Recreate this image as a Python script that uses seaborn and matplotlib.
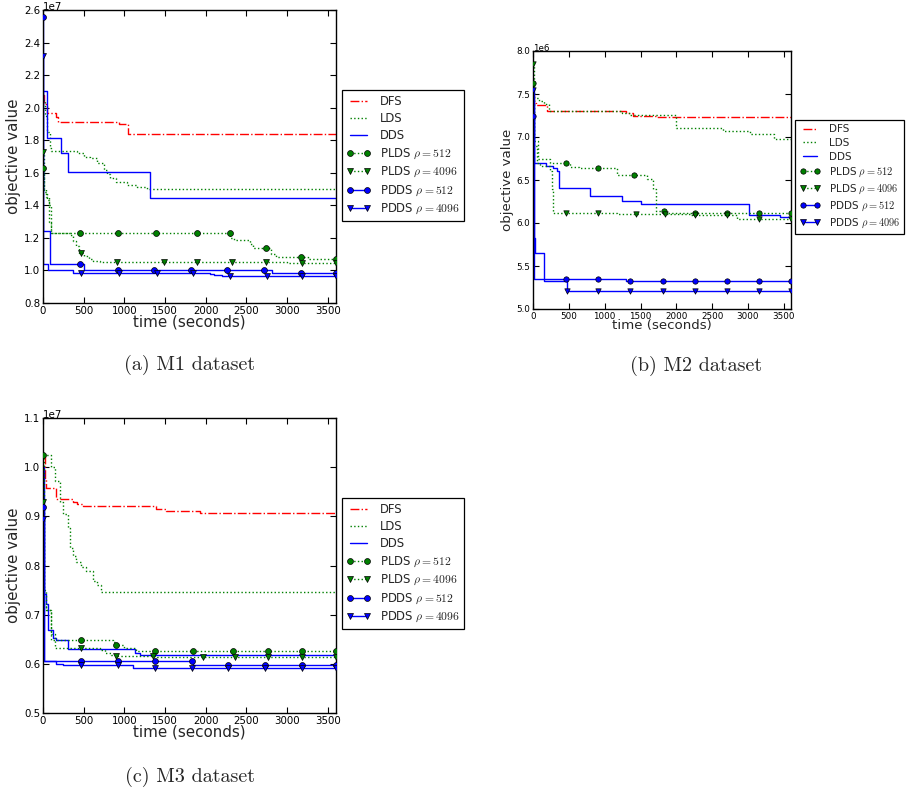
import numpy as np
import pandas as pd
import matplotlib
matplotlib.use("Agg")
import matplotlib.pyplot as plt
import seaborn as sns
from matplotlib.lines import Line2D

# ---------------- data ----------------
XMAX = 3600

# M1 dataset (values in units of 1e7)
m1_scale = 1e7
m1_dfs_t = [0, 15, 45, 160, 190, 930, 1040]
m1_dfs_v = [2.08, 2.02, 1.97, 1.94, 1.91, 1.90, 1.84]
m1_lds_t = [0, 20, 50, 80, 100, 420, 500, 580, 660, 745, 790, 826, 900, 1031, 1150, 1276]
m1_lds_v = [2.05, 1.95, 1.85, 1.75, 1.735, 1.72, 1.70, 1.69, 1.66, 1.62, 1.59, 1.565, 1.545, 1.525, 1.51, 1.50]
m1_dds_t = [0, 49, 225, 307, 1317]
m1_dds_v = [2.10, 1.815, 1.72, 1.605, 1.445]
m1_plds512_t = [0, 10, 50, 70, 100, 2300, 2350, 2540, 2580, 2800, 2860, 3260]
m1_plds512_v = [1.63, 1.48, 1.43, 1.30, 1.228, 1.20, 1.19, 1.16, 1.135, 1.10, 1.085, 1.07]
m1_plds4096_t = [0, 10, 40, 70, 100, 330, 370, 400, 440, 500, 560, 620, 700, 3000]
m1_plds4096_v = [1.73, 1.50, 1.45, 1.40, 1.23, 1.22, 1.18, 1.15, 1.11, 1.09, 1.07, 1.06, 1.05, 1.045]
m1_pdds512_t = [0, 5, 82, 500, 2810]
m1_pdds512_v = [2.56, 1.24, 1.04, 1.005, 0.985]
m1_pdds4096_t = [0, 5, 60, 370, 2050, 2100, 2200]
m1_pdds4096_v = [2.32, 1.04, 1.005, 0.985, 0.98, 0.972, 0.968]
m1_mk_plds512 = [0, 458, 925, 1391, 1890, 2299, 2737, 3170, 3600]
m1_mk_plds4096 = [0, 470, 908, 1489, 1890, 2319, 2737, 3178, 3600]
m1_mk_pdds512 = [0, 458, 916, 1366, 1816, 2266, 2716, 3170, 3600]
m1_mk_pdds4096 = [0, 470, 929, 1399, 1849, 2299, 2749, 3178, 3600]

# M2 dataset (values in units of 1e6)
m2_scale = 1e6
m2_dfs_t = [0, 20, 40, 190, 1300, 1400, 1720]
m2_dfs_v = [7.50, 7.40, 7.37, 7.30, 7.28, 7.25, 7.23]
m2_lds_t = [0, 90, 150, 230, 1240, 1350, 1990, 2650, 3030, 3360]
m2_lds_v = [7.45, 7.42, 7.38, 7.30, 7.28, 7.255, 7.11, 7.075, 7.03, 6.98]
m2_dds_t = [0, 20, 186, 280, 330, 364, 793, 1248, 1513, 3008, 3446]
m2_dds_v = [7.40, 6.70, 6.66, 6.64, 6.60, 6.41, 6.315, 6.26, 6.22, 6.09, 6.07]
m2_plds512_t = [0, 20, 70, 233, 512, 640, 1166, 1586, 1677, 1723, 1850]
m2_plds512_v = [7.63, 6.95, 6.75, 6.70, 6.65, 6.64, 6.56, 6.51, 6.40, 6.14, 6.115]
m2_plds4096_t = [0, 20, 60, 100, 240, 260, 280, 1170, 2200, 2843]
m2_plds4096_v = [7.85, 6.90, 6.70, 6.66, 6.60, 6.40, 6.12, 6.10, 6.09, 6.045]
m2_pdds512_t = [0, 10, 1300]
m2_pdds512_v = [7.24, 5.35, 5.32]
m2_pdds4096_t = [0, 10, 30, 150, 470]
m2_pdds4096_v = [7.55, 5.83, 5.65, 5.32, 5.21]
m2_mk_plds512 = [0, 466, 908, 1406, 1826, 2259, 2701, 3148, 3600]
m2_mk_plds4096 = [0, 466, 908, 1434, 1840, 2259, 2701, 3148, 3600]
m2_mk_pdds512 = [0, 466, 908, 1360, 1807, 2259, 2701, 3148, 3600]
m2_mk_pdds4096 = [0, 475, 908, 1360, 1807, 2259, 2701, 3148, 3600]

# M3 dataset (values in units of 1e7)
m3_scale = 1e7
m3_dfs_t = [0, 20, 41, 164, 369, 420, 492, 1394, 1517, 1927]
m3_dfs_v = [1.02, 0.975, 0.958, 0.936, 0.93, 0.925, 0.922, 0.915, 0.91, 0.906]
m3_lds_t = [0, 102, 143, 205, 250, 307, 328, 370, 410, 470, 533, 615, 660, 717]
m3_lds_v = [1.025, 1.00, 0.971, 0.93, 0.905, 0.876, 0.836, 0.82, 0.808, 0.797, 0.788, 0.768, 0.76, 0.747]
m3_dds_t = [0, 10, 41, 61, 123, 164, 307, 1127, 1189]
m3_dds_v = [1.00, 0.742, 0.722, 0.669, 0.652, 0.648, 0.630, 0.622, 0.617]
m3_plds512_t = [0, 10, 41, 102, 861, 900, 1000, 1148]
m3_plds512_v = [1.025, 0.75, 0.71, 0.648, 0.645, 0.638, 0.633, 0.627]
m3_plds4096_t = [0, 10, 41, 102, 150, 697, 760, 830, 902, 1400]
m3_plds4096_v = [0.93, 0.72, 0.71, 0.66, 0.632, 0.628, 0.622, 0.617, 0.615, 0.614]
m3_pdds512_t = [0, 8, 1841]
m3_pdds512_v = [0.918, 0.606, 0.598]
m3_pdds4096_t = [0, 8, 164, 246, 1104]
m3_pdds4096_v = [0.895, 0.605, 0.600, 0.597, 0.592]
m3_mk_plds512 = [0, 472, 902, 1374, 1845, 2337, 2768, 3178, 3600]
m3_mk_plds4096 = [0, 472, 902, 1353, 1968, 2358, 2768, 3178, 3600]
m3_mk_pdds512 = [0, 472, 923, 1374, 1825, 2276, 2727, 3178, 3600]
m3_mk_pdds4096 = [0, 472, 923, 1374, 1825, 2276, 2727, 3178, 3600]

series_names = ["DFS", "LDS", "DDS", "PLDS512", "PLDS4096", "PDDS512", "PDDS4096"]
labels = ["DFS", "LDS", "DDS", r"PLDS $\rho=512$", r"PLDS $\rho=4096$",
          r"PDDS $\rho=512$", r"PDDS $\rho=4096$"]
x_ticks = [0, 500, 1000, 1500, 2000, 2500, 3000, 3500]
captions = ["(a) M1 dataset", "(b) M2 dataset", "(c) M3 dataset"]

# ---------------- style ----------------
sns.set_style("ticks")
plt.rcParams.update({
    "font.family": ["DejaVu Sans"],
    "mathtext.fontset": "cm",
    "xtick.direction": "in", "ytick.direction": "in",
    "xtick.top": True, "ytick.right": True,
    "axes.formatter.useoffset": False,
    "axes.edgecolor": "black",
    "axes.linewidth": 1.0,
    "xtick.color": "black", "ytick.color": "black",
})

RED, GREEN, BLUE = "#ff0000", "#008000", "#0000ff"
styles = {
    "DFS": dict(color=RED, ls="-.", marker=None),
    "LDS": dict(color=GREEN, ls=":", marker=None),
    "DDS": dict(color=BLUE, ls="-", marker=None),
    "PLDS512": dict(color=GREEN, ls=":", marker="o"),
    "PLDS4096": dict(color=GREEN, ls=":", marker="v"),
    "PDDS512": dict(color=BLUE, ls="-", marker="o"),
    "PDDS4096": dict(color=BLUE, ls="-", marker="v"),
}


def step_value(ts, vs, t):
    i = np.searchsorted(np.asarray(ts), t, side="right") - 1
    return np.asarray(vs)[i]


datasets = [
    dict(scale=m1_scale,
         series={"DFS": (m1_dfs_t, m1_dfs_v), "LDS": (m1_lds_t, m1_lds_v),
                 "DDS": (m1_dds_t, m1_dds_v),
                 "PLDS512": (m1_plds512_t, m1_plds512_v),
                 "PLDS4096": (m1_plds4096_t, m1_plds4096_v),
                 "PDDS512": (m1_pdds512_t, m1_pdds512_v),
                 "PDDS4096": (m1_pdds4096_t, m1_pdds4096_v)},
         marks={"PLDS512": m1_mk_plds512, "PLDS4096": m1_mk_plds4096,
                "PDDS512": m1_mk_pdds512, "PDDS4096": m1_mk_pdds4096},
         ylim=(0.8, 2.6), yticks=np.arange(0.8, 2.61, 0.2),
         rect=[43 / 907, 1 - 303 / 789, 293 / 907, 293 / 789],
         tick_fs=7.4, label_fs=10.9, leg_fs=8.4, ms=18,
         leg_pos=(342 / 907, 1 - 90 / 789)),
    dict(scale=m2_scale,
         series={"DFS": (m2_dfs_t, m2_dfs_v), "LDS": (m2_lds_t, m2_lds_v),
                 "DDS": (m2_dds_t, m2_dds_v),
                 "PLDS512": (m2_plds512_t, m2_plds512_v),
                 "PLDS4096": (m2_plds4096_t, m2_plds4096_v),
                 "PDDS512": (m2_pdds512_t, m2_pdds512_v),
                 "PDDS4096": (m2_pdds4096_t, m2_pdds4096_v)},
         marks={"PLDS512": m2_mk_plds512, "PLDS4096": m2_mk_plds4096,
                "PDDS512": m2_mk_pdds512, "PDDS4096": m2_mk_pdds4096},
         ylim=(5.0, 8.0), yticks=np.arange(5.0, 8.01, 0.5),
         rect=[533 / 907, 1 - 309 / 789, 258 / 907, 258 / 789],
         tick_fs=6.3, label_fs=9.6, leg_fs=7.5, ms=15,
         leg_pos=(795 / 907, 1 - 120 / 789)),
    dict(scale=m3_scale,
         series={"DFS": (m3_dfs_t, m3_dfs_v), "LDS": (m3_lds_t, m3_lds_v),
                 "DDS": (m3_dds_t, m3_dds_v),
                 "PLDS512": (m3_plds512_t, m3_plds512_v),
                 "PLDS4096": (m3_plds4096_t, m3_plds4096_v),
                 "PDDS512": (m3_pdds512_t, m3_pdds512_v),
                 "PDDS4096": (m3_pdds4096_t, m3_pdds4096_v)},
         marks={"PLDS512": m3_mk_plds512, "PLDS4096": m3_mk_plds4096,
                "PDDS512": m3_mk_pdds512, "PDDS4096": m3_mk_pdds4096},
         ylim=(0.5, 1.1), yticks=np.arange(0.5, 1.101, 0.1),
         rect=[43 / 907, 1 - 713 / 789, 293 / 907, 295 / 789],
         tick_fs=7.4, label_fs=10.9, leg_fs=8.4, ms=18,
         leg_pos=(342 / 907, 1 - 498 / 789)),
]

caption_pos = [(190 / 907, 1 - 365 / 789), (696 / 907, 1 - 366 / 789),
               (190 / 907, 1 - 777 / 789)]

fig = plt.figure(figsize=(9.07, 7.89), dpi=100)

for k, ds in enumerate(datasets):
    ax = fig.add_axes(ds["rect"])
    sc = ds["scale"]
    for name in series_names:
        ts, vs = ds["series"][name]
        st = styles[name]
        df = pd.DataFrame({"t": list(ts) + [XMAX],
                           "v": [v * sc for v in vs] + [vs[-1] * sc]})
        sns.lineplot(data=df, x="t", y="v", ax=ax, color=st["color"],
                     linestyle=st["ls"], linewidth=1.0, drawstyle="steps-post",
                     estimator=None, sort=False, legend=False, zorder=2)
        if st["marker"] is not None:
            mt = np.asarray(ds["marks"][name], dtype=float)
            mv = np.array([step_value(ts, vs, t) for t in mt]) * sc
            sns.scatterplot(x=mt, y=mv, ax=ax, marker=st["marker"],
                            color=st["color"], edgecolor="black",
                            linewidth=0.5, s=ds["ms"], zorder=3, legend=False)
    ax.set_xlim(0, XMAX)
    ax.set_ylim(ds["ylim"][0] * sc, ds["ylim"][1] * sc)
    ax.set_xticks(x_ticks)
    ax.set_yticks(ds["yticks"] * sc)
    ax.tick_params(labelsize=ds["tick_fs"], length=4, width=0.8, pad=2)
    ax.yaxis.OFFSETTEXTPAD = 0
    ax.yaxis.get_offset_text().set_fontsize(ds["tick_fs"])
    ax.set_xlabel("time (seconds)", fontsize=ds["label_fs"], labelpad=-1)
    ax.set_ylabel("objective value", fontsize=ds["label_fs"], labelpad=2)
    for sp in ax.spines.values():
        sp.set_visible(True)
        sp.set_color("black")

    handles = []
    for name in series_names:
        st = styles[name]
        handles.append(Line2D([], [], color=st["color"], linestyle=st["ls"],
                              linewidth=1.0, marker=st["marker"],
                              markersize=np.sqrt(ds["ms"]),
                              markeredgecolor="black", markeredgewidth=0.5))
    leg = fig.legend(handles, labels, loc="upper left",
                     bbox_to_anchor=ds["leg_pos"], fontsize=ds["leg_fs"],
                     frameon=True, fancybox=False, framealpha=1,
                     edgecolor="black", numpoints=2, handlelength=2.0,
                     labelspacing=0.36, borderpad=0.42, handletextpad=0.8,
                     borderaxespad=0)
    leg.get_frame().set_linewidth(0.9)

    fig.text(caption_pos[k][0], caption_pos[k][1], captions[k],
             ha="center", va="center", fontsize=14.5, family="cmr10")

fig.savefig("out.png", dpi=100)
